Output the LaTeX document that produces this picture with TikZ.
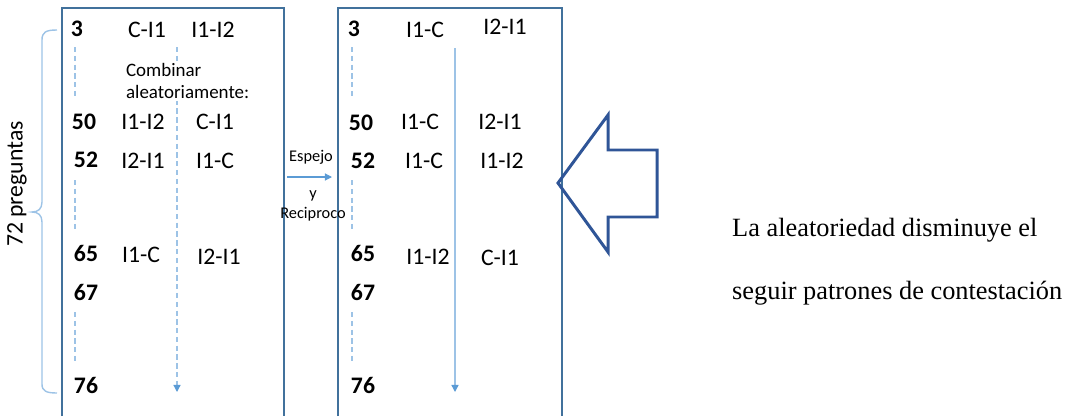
\documentclass[tikz,border=0pt]{standalone}
\usepackage{fontspec}
\setmainfont{Carlito}
\newfontfamily\notefont{Liberation Serif}
\usetikzlibrary{arrows.meta}
\definecolor{boxblue}{RGB}{65,113,156}
\definecolor{lineblue}{RGB}{157,195,230}
\definecolor{tipblue}{RGB}{91,155,213}
\definecolor{bigblue}{RGB}{47,85,151}
\tikzset{
	num/.style={font=\fontsize{13.5}{15}\selectfont\bfseries},
	pair/.style={font=\fontsize{13.5}{15}\selectfont},
	small/.style={font=\fontsize{9.3}{10}\selectfont},
	gap/.style={lineblue,densely dashed,line width=.6pt},
	flow/.style={tipblue,line width=.6pt,-{Triangle[width=4pt,length=4pt]}},
}

\begin{document}
\begin{tikzpicture}[x=.02cm,y=-.02cm]
	\useasboundingbox (0,0) rectangle (1071,416);
	%	the two columns
	\draw[boxblue,line width=.7pt] (62,416)--(62,8)--(284,8)--(284,416);
	\draw[boxblue,line width=.7pt] (338,416)--(338,8)--(562,8)--(562,416);
	
	%	left column
	\coordinate (ltop) at (177,47);
	\coordinate (lend) at (177,392);
	\draw[gap,line width=.7pt,-{Triangle[width=4pt,length=4pt,color=tipblue]}] (ltop)--(lend);
	\draw[gap] (75,47)--(75,97);
	\draw[gap] (75,180)--(75,230);
	\draw[gap] (75,312)--(75,362);
	\node[num] (a3) at (77,29) {3};
	\node[pair] (a3x) at (147,30) {C-I1};
	\node[pair] (a3y) at (213,30) {I1-I2};
	\node[fill=white,inner sep=1pt,align=left,anchor=west,font=\fontsize{10.8}{13}\selectfont] (mix) at (124,81) {Combinar\\aleatoriamente:};
	\node[num] (a50) at (84,122) {50};
	\node[pair] (a50x) at (143,122) {I1-I2};
	\node[pair] (a50y) at (215,122) {C-I1};
	\node[num] (a52) at (86,160) {52};
	\node[pair] (a52x) at (143,161) {I2-I1};
	\node[pair] (a52y) at (215,161) {I1-C};
	\node[num] (a65) at (86,253) {65};
	\node[pair] (a65x) at (141,255) {I1-C};
	\node[pair] (a65y) at (219,257) {I2-I1};
	\node[num] (a67) at (86,292) {67};
	\node[num] (a76) at (86,385) {76};
	
	%	brace
	\draw[lineblue,line width=.8pt] (57,30) .. controls (46,30) and (42,32) .. (42,40)--(42,202)
		.. controls (42,209) and (38,212) .. (32,212) .. controls (38,212) and (42,215) .. (42,222)
		--(42,384) .. controls (42,391) and (46,393) .. (57,393);
	\node[rotate=90,pair] (total) at (17,184) {72 preguntas};
	
	%	mirror step
	\coordinate (mfrom) at (287,177);
	\coordinate (mto) at (332,177);
	\draw[flow] (mfrom)--(mto);
	\node[small] (mirror) at (311,157) {Espejo};
	\node[small] (and) at (313,196) {y};
	\node[small] (recip) at (313,214) {Reciproco};
	
	%	right column
	\coordinate (rtop) at (455,48);
	\coordinate (rend) at (455,392);
	\draw[lineblue,line width=.8pt,-{Triangle[width=4pt,length=4pt,color=tipblue]}] (rtop)--(rend);
	\draw[gap] (352,47)--(352,97);
	\draw[gap] (352,180)--(352,230);
	\draw[gap] (352,312)--(352,362);
	\node[num] (b3) at (354,29) {3};
	\node[pair] (b3x) at (425,30) {I1-C};
	\node[pair] (b3y) at (505,27) {I2-I1};
	\node[num] (b50) at (361,123) {50};
	\node[pair] (b50x) at (420,122) {I1-C};
	\node[pair] (b50y) at (500,122) {I2-I1};
	\node[num] (b52) at (363,161) {52};
	\node[pair] (b52x) at (424,161) {I1-C};
	\node[pair] (b52y) at (502,161) {I1-I2};
	\node[num] (b65) at (363,253) {65};
	\node[pair] (b65x) at (428,257) {I1-I2};
	\node[pair] (b65y) at (500,258) {C-I1};
	\node[num] (b67) at (363,292) {67};
	\node[num] (b76) at (363,385) {76};
	
	%	big arrow and the note
	\draw[bigblue,line width=1.7pt,line join=miter] (558,183)--(608,115)--(608,150)--(657,150)
		--(657,217)--(608,217)--(608,252)--cycle;
	\node[anchor=west,font=\notefont\fontsize{15}{17}\selectfont] (note1) at (726,230) {La aleatoriedad disminuye el};
	\node[anchor=west,font=\notefont\fontsize{15}{17}\selectfont] (note2) at (726,293) {seguir patrones de contestación};
\end{tikzpicture}
\end{document}
